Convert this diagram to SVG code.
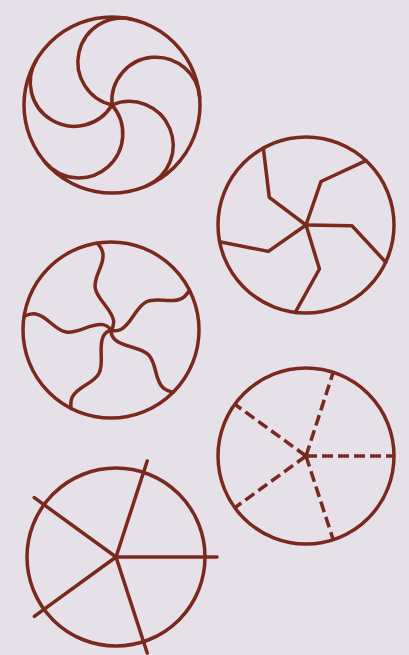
<svg xmlns="http://www.w3.org/2000/svg" width="409" height="655" viewBox="0 0 409 655">
<style>
.ln{fill:none;stroke:#7a2a1c;stroke-width:3.5;stroke-linecap:round;stroke-linejoin:round}
.ds{stroke-dasharray:11 5;stroke-linecap:butt}
</style>
<defs>
<path id="arc" d="M0,0 A44,44 0 0 1 88,0"/>
<path id="bent" d="M0,0 L46,0 L80.4,35.8"/>
<path id="wave" d="M0,0 C3,3 6,4 9,4 C21,4 32,-9 44,-9 C56,-9 65,4 77,4 C81,4 85,2 88,0"/>
<line id="dash" x1="0" y1="0" x2="88" y2="0"/>
<line id="ray" x1="0" y1="0" x2="101" y2="0"/>
</defs>
<rect width="409" height="655" fill="#e6e0e9"/>
<g id="swirl" class="ln">
<circle cx="112" cy="105" r="88"/>
<use href="#arc" transform="translate(112,105) rotate(-77)"/>
<use href="#arc" transform="translate(112,105) rotate(-5)"/>
<use href="#arc" transform="translate(112,105) rotate(67)"/>
<use href="#arc" transform="translate(112,105) rotate(139)"/>
<use href="#arc" transform="translate(112,105) rotate(211)"/>
</g>
<g id="bent-spokes" class="ln">
<circle cx="306" cy="225" r="88"/>
<use href="#bent" transform="translate(306,225) rotate(1)"/>
<use href="#bent" transform="translate(306,225) rotate(73)"/>
<use href="#bent" transform="translate(306,225) rotate(145)"/>
<use href="#bent" transform="translate(306,225) rotate(217)"/>
<use href="#bent" transform="translate(306,225) rotate(289)"/>
</g>
<g id="wavy-spokes" class="ln">
<circle cx="111" cy="330" r="88"/>
<use href="#wave" transform="translate(111,330) rotate(-27)"/>
<use href="#wave" transform="translate(111,330) rotate(45)"/>
<use href="#wave" transform="translate(111,330) rotate(117)"/>
<use href="#wave" transform="translate(111,330) rotate(189)"/>
<use href="#wave" transform="translate(111,330) rotate(261)"/>
</g>
<g id="dashed-spokes" class="ln">
<circle cx="306" cy="456" r="88"/>
<g class="ds">
<use href="#dash" transform="translate(306,456) rotate(0)"/>
<use href="#dash" transform="translate(306,456) rotate(72)"/>
<use href="#dash" transform="translate(306,456) rotate(144)"/>
<use href="#dash" transform="translate(306,456) rotate(216)"/>
<use href="#dash" transform="translate(306,456) rotate(288)"/>
</g>
</g>
<g id="straight-spokes" class="ln">
<circle cx="116" cy="557" r="89"/>
<use href="#ray" transform="translate(116,557) rotate(0)"/>
<use href="#ray" transform="translate(116,557) rotate(72)"/>
<use href="#ray" transform="translate(116,557) rotate(144)"/>
<use href="#ray" transform="translate(116,557) rotate(216)"/>
<use href="#ray" transform="translate(116,557) rotate(288)"/>
</g>
</svg>
